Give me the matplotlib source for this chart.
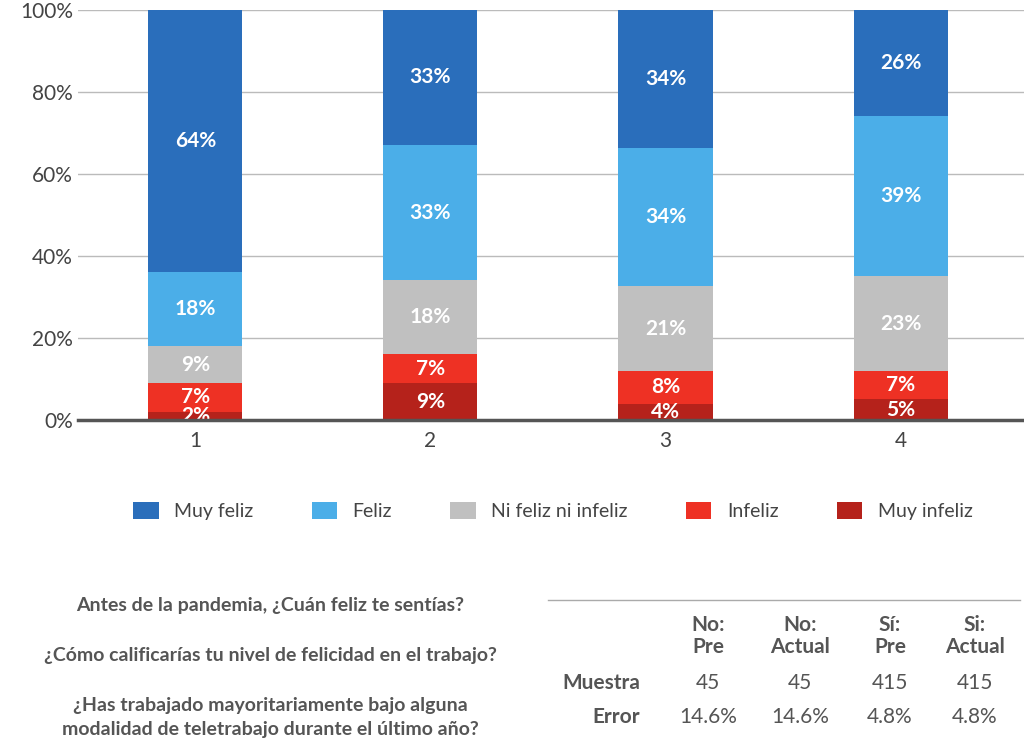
import matplotlib
import matplotlib.pyplot as plt
import numpy as np

matplotlib.use("Agg")  # headless backend

groups = ['1', '2', '3', '4']
categories = ['Muy infeliz', 'Infeliz', 'Ni feliz ni infeliz', 'Feliz', 'Muy feliz']
values = [
    [2, 9, 4, 5],      # Muy infeliz
    [7, 7, 8, 7],      # Infeliz
    [9, 18, 21, 23],   # Ni feliz ni infeliz
    [18, 33, 34, 39],  # Feliz
    [64, 33, 34, 26],  # Muy feliz
]
colors = ['#b5221b', '#ee3124', '#c0c0c0', '#4baee8', '#2a6ebb']

questions = ['Antes de la pandemia, ¿Cuán feliz te sentías?',
             '¿Cómo calificarías tu nivel de felicidad en el trabajo?',
             '¿Has trabajado mayoritariamente bajo alguna\nmodalidad de teletrabajo durante el último año?']
col_headers = ['No:\nPre', 'No:\nActual', 'Sí:\nPre', 'Si:\nActual']
muestra = ['45', '45', '415', '415']
error = ['14.6%', '14.6%', '4.8%', '4.8%']


def plot_stacked(filename):
    """
    Draws the stacked 100% bar chart with legend and the sample table below it.
    """
    plt.rcParams['font.family'] = ['Lato', 'DejaVu Sans']
    fig = plt.figure(figsize=(10.24, 7.46), dpi=100)
    plt.axes([0.076, 0.437, 0.924, 0.55])

    data = np.array(values, dtype=float)
    data = data / data.sum(axis=0) * 100  # normalise each bar to 100%
    x = np.arange(1, len(groups) + 1)
    bottom = np.zeros(len(groups))
    for idx, cat in enumerate(categories):
        plt.bar(x, data[idx], 0.4, bottom=bottom, color=colors[idx], label=cat, zorder=3)
        for xi, b, h, v in zip(x, bottom, data[idx], values[idx]):
            plt.text(xi, b + h / 2, f'{v}%', ha='center', va='center', color='white',
                     fontsize=15, fontweight='bold', zorder=4)
        bottom += data[idx]

    plt.xlim(0.5, 4.525)
    plt.ylim(0, 100)
    plt.yticks(range(0, 101, 20), [f'{t}%' for t in range(0, 101, 20)])
    plt.xticks(x, groups)
    plt.tick_params(axis='both', length=0, labelsize=15, labelcolor='#444444')
    plt.tick_params(axis='x', pad=8)
    plt.grid(axis='y', color='#bbbbbb', linewidth=1, zorder=0)
    ax = plt.gca()
    for side in ['top', 'right', 'left']:
        ax.spines[side].set_visible(False)
    ax.spines['bottom'].set_color('#555555')
    ax.spines['bottom'].set_linewidth(2.5)
    ax.spines['bottom'].set_zorder(5)

    handles, labels = ax.get_legend_handles_labels()
    fig.legend(handles[::-1], labels[::-1], loc='center', bbox_to_anchor=(0.54, 0.315), ncol=5,
               frameon=False, fontsize=14, handlelength=1.3, handleheight=1.0, columnspacing=3.0,
               labelcolor='#444444')

    # Questions on the left
    fig.text(270 / 1024, 1 - 605 / 746, questions[0], ha='center', va='center', fontsize=14,
             fontweight='bold', color='#555555')
    fig.text(270 / 1024, 1 - 655 / 746, questions[1], ha='center', va='center', fontsize=14,
             fontweight='bold', color='#555555')
    fig.text(270 / 1024, 1 - 718 / 746, questions[2], ha='center', va='center', fontsize=14,
             fontweight='bold', color='#555555', linespacing=1.5)

    # Table on the right
    fig.add_artist(plt.Line2D([548 / 1024, 1020 / 1024], [1 - 600 / 746] * 2, color='#aaaaaa', lw=1))
    col_x = [708, 800, 890, 975]
    for cx, hd, m, e in zip(col_x, col_headers, muestra, error):
        fig.text(cx / 1024, 1 - 636 / 746, hd, ha='center', va='center', fontsize=15,
                 fontweight='bold', color='#555555', linespacing=1.1)
        fig.text(cx / 1024, 1 - 683 / 746, m, ha='center', va='center', fontsize=15, color='#555555')
        fig.text(cx / 1024, 1 - 717 / 746, e, ha='center', va='center', fontsize=15, color='#555555')
    fig.text(640 / 1024, 1 - 683 / 746, 'Muestra', ha='right', va='center', fontsize=15,
             fontweight='bold', color='#555555')
    fig.text(640 / 1024, 1 - 717 / 746, 'Error', ha='right', va='center', fontsize=15,
             fontweight='bold', color='#555555')

    plt.savefig(filename)
    plt.close()


if __name__ == "__main__":
    plot_stacked('out.png')
